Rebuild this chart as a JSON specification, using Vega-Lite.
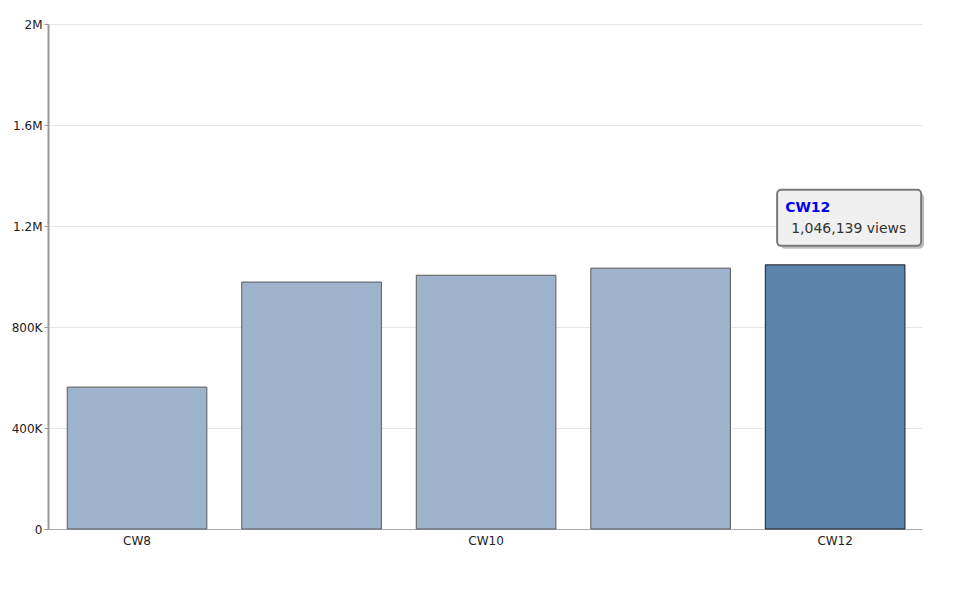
{
  "$schema": "https://vega.github.io/schema/vega-lite/v6.json",
  "autosize": {"type": "none"},
  "width": 874,
  "height": 505,
  "padding": {"left": 48, "top": 24, "right": 58, "bottom": 65},
  "background": "#ffffff",
  "config": {
    "view": {"stroke": null},
    "font": "DejaVu Sans",
    "axis": {"labelFont": "DejaVu Sans", "labelFontSize": 12, "labelColor": "#222222"}
  },
  "data": {
    "values": [
      {"week": "CW8", "views": 562000},
      {"week": "CW9", "views": 978000},
      {"week": "CW10", "views": 1005000},
      {"week": "CW11", "views": 1033000},
      {"week": "CW12", "views": 1046139}
    ]
  },
  "encoding": {
    "x": {
      "field": "week", "type": "ordinal", "sort": null,
      "scale": {"paddingInner": 0.2, "paddingOuter": 0.104, "align": 0.53},
      "axis": {
        "title": null, "labelAngle": 0, "values": ["CW8", "CW10", "CW12"],
        "ticks": false, "labelPadding": 6, "domainColor": "#aaaaaa", "domainWidth": 1, "grid": false
      }
    },
    "y": {
      "field": "views", "type": "quantitative",
      "scale": {"domain": [0, 2000000], "nice": false},
      "axis": {
        "title": null, "values": [0, 400000, 800000, 1200000, 1600000, 2000000],
        "labelExpr": "datum.value == 0 ? '0' : (datum.value >= 1000000 ? format(datum.value / 1000000, '~g') + 'M' : format(datum.value / 1000, 'd') + 'K')",
        "gridColor": "#e6e6e6", "gridWidth": 1,
        "domainColor": "#999999", "domainWidth": 2,
        "tickColor": "#999999", "tickSize": 4, "labelPadding": 2
      }
    }
  },
  "layer": [
    {
      "mark": {"type": "bar", "stroke": "#555555", "strokeWidth": 1},
      "encoding": {
        "color": {
          "condition": {"test": "datum.week == 'CW12'", "value": "#5c84aa"},
          "value": "#9db4cc"
        },
        "stroke": {
          "condition": {"test": "datum.week == 'CW12'", "value": "#1e1e1e"},
          "value": "#5a5a5a"
        }
      }
    },
    {
      "transform": [{"filter": "datum.week == 'CW12'"}],
      "mark": {"type": "rect", "width": 144, "height": 56, "xOffset": 17, "yOffset": -44, "fill": "#000000", "opacity": 0.25, "cornerRadius": 5},
      "encoding": {}
    },
    {
      "transform": [{"filter": "datum.week == 'CW12'"}],
      "mark": {"type": "rect", "width": 144, "height": 56, "xOffset": 14, "yOffset": -47, "fill": "#f0f0f0", "stroke": "#7a7a7a", "strokeWidth": 2, "cornerRadius": 4},
      "encoding": {}
    },
    {
      "transform": [{"filter": "datum.week == 'CW12'"}],
      "mark": {"type": "text", "align": "left", "baseline": "middle", "dx": -50, "dy": -57, "fontSize": 14, "fontWeight": "bold", "fill": "#0000ee"},
      "encoding": {"text": {"field": "week"}}
    },
    {
      "transform": [
        {"filter": "datum.week == 'CW12'"},
        {"calculate": "format(datum.views, ',') + ' views'", "as": "label"}
      ],
      "mark": {"type": "text", "align": "left", "baseline": "middle", "dx": -44, "dy": -36, "fontSize": 14, "fill": "#333333"},
      "encoding": {"text": {"field": "label"}}
    }
  ]
}
